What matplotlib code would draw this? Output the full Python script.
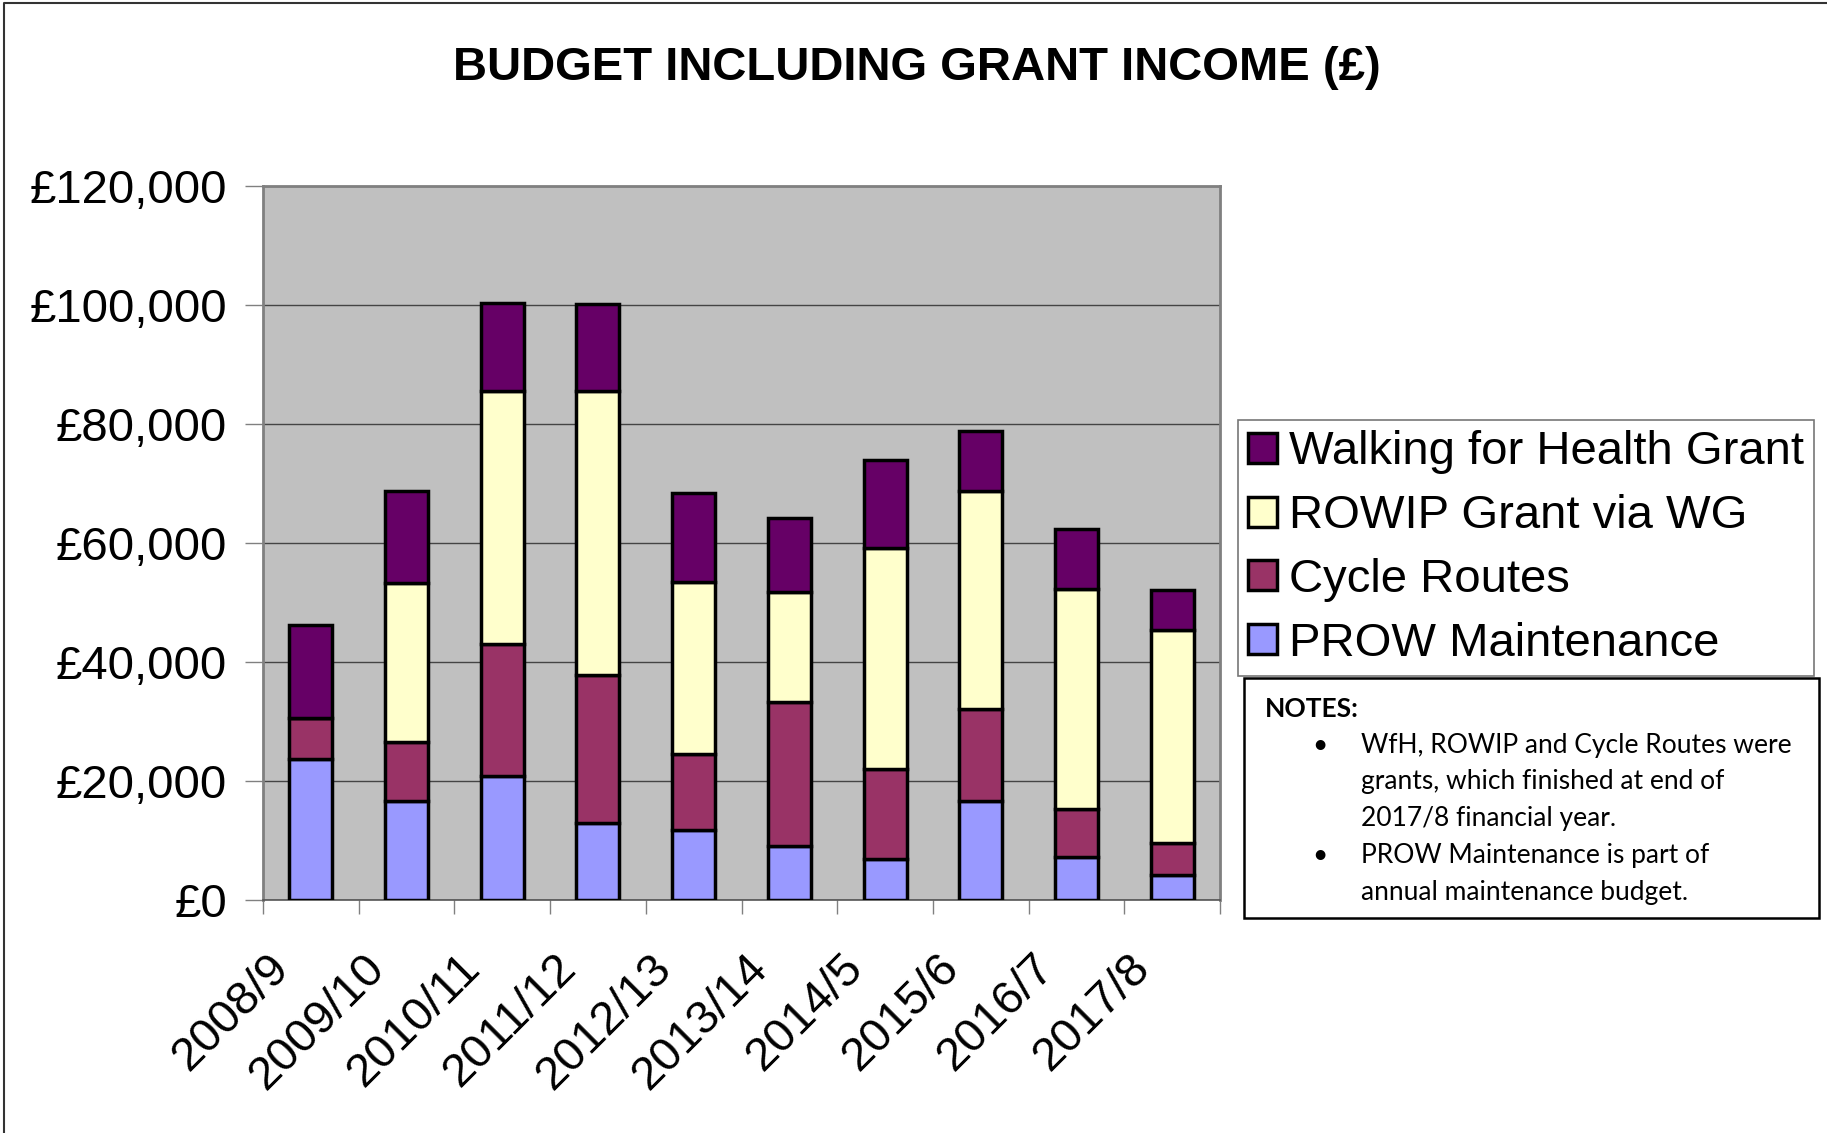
#!/usr/bin/env python3
"""Budget including grant income - stacked bar chart."""

import matplotlib.pyplot as plt
import matplotlib.ticker as ticker
import matplotlib.transforms as mtransforms
from matplotlib.patches import Rectangle
from matplotlib.lines import Line2D

years = ["2008/9", "2009/10", "2010/11", "2011/12", "2012/13",
         "2013/14", "2014/5", "2015/6", "2016/7", "2017/8"]

# values in £
prow_maintenance = [23700, 16700, 20900, 12900, 11700, 9100, 6900, 16600, 7200, 4200]
cycle_routes = [6900, 9900, 22200, 24900, 12800, 24200, 15100, 15500, 8100, 5400]
rowip_grant = [0, 26700, 42400, 47800, 29000, 18500, 37100, 36600, 37000, 35800]
wfh_grant = [15600, 15400, 14900, 14600, 14900, 12400, 14900, 10200, 10000, 6700]

series_names = ["PROW Maintenance", "Cycle Routes", "ROWIP Grant via WG", "Walking for Health Grant"]
series_colors = ["#9999FF", "#993366", "#FFFFCC", "#660066"]

notes_title = "NOTES:"
notes_items = [
    ["WfH, ROWIP and Cycle Routes were", "grants, which finished at end of", "2017/8 financial year."],
    ["PROW Maintenance is part of", "annual maintenance budget."],
]

plt.rcParams["font.family"] = ["Liberation Sans", "DejaVu Sans"]

W, H = 1827, 1133
fig = plt.figure(figsize=(W / 100, H / 100), dpi=100)
fig.patch.set_facecolor("white")

ax = fig.add_axes([263 / W, 1 - 900 / H, (1220 - 263) / W, (900 - 186) / H])
ax.set_facecolor("#C0C0C0")

x = list(range(len(years)))
bottom = [0] * len(years)
handles = []
for vals, name, col in zip([prow_maintenance, cycle_routes, rowip_grant, wfh_grant],
                           series_names, series_colors):
    bars = ax.bar(x, vals, bottom=bottom, width=0.45, color=col,
                  edgecolor="black", linewidth=2.5, label=name, zorder=3)
    handles.append(bars)
    bottom = [b + v for b, v in zip(bottom, vals)]

ax.set_ylim(0, 120000)
ax.set_xlim(-0.5, len(years) - 0.5)
ax.yaxis.set_major_locator(ticker.MultipleLocator(20000))
ax.yaxis.set_major_formatter(ticker.FuncFormatter(lambda v, _: f"£{v:,.0f}"))
ax.grid(axis="y", color="#444444", linewidth=1.0, zorder=1)
ax.set_axisbelow(True)

# category boundaries as major ticks, labels on minor ticks at centres
ax.xaxis.set_major_locator(ticker.FixedLocator([i - 0.5 for i in range(len(years) + 1)]))
ax.xaxis.set_major_formatter(ticker.NullFormatter())
ax.xaxis.set_minor_locator(ticker.FixedLocator(x))
ax.xaxis.set_minor_formatter(ticker.FixedFormatter(years))
ax.tick_params(axis="x", which="major", length=10, width=1, color="#808080", direction="out")
ax.tick_params(axis="x", which="minor", length=0, pad=33, labelsize=34)
shift = mtransforms.ScaledTranslation(-0.13, 0, fig.dpi_scale_trans)
for lbl in ax.get_xticklabels(minor=True):
    lbl.set_rotation(45)
    lbl.set_ha("right")
    lbl.set_transform(lbl.get_transform() + shift)
ax.tick_params(axis="y", length=13, width=1, color="#808080", pad=13, labelsize=34)

for side in ["top", "right", "left"]:
    ax.spines[side].set_color("#808080")
    ax.spines[side].set_linewidth(2)
ax.spines["bottom"].set_color("#555555")
ax.spines["bottom"].set_linewidth(1.2)

fig.text(917 / W, 1 - 68 / H, "BUDGET INCLUDING GRANT INCOME (£)",
         ha="center", va="center", fontsize=34, fontweight="bold")

leg = fig.legend(handles[::-1], series_names[::-1], loc="upper left",
                 bbox_to_anchor=(1238 / W, 1 - 420 / H), fontsize=34,
                 frameon=True, fancybox=False, edgecolor="#555555",
                 handlelength=0.6, handleheight=0.6, handletextpad=0.25,
                 labelspacing=0.42, borderpad=0.22, borderaxespad=0)
leg.get_frame().set_linewidth(1.2)

# notes box
fig.patches.append(Rectangle((1244 / W, 1 - 918 / H), (1819 - 1244) / W, (918 - 678) / H,
                             transform=fig.transFigure, facecolor="white",
                             edgecolor="black", linewidth=1.8))
fig.text(1265 / W, 1 - 709 / H, notes_title, fontsize=19, fontweight="bold",
         family=["Lato", "DejaVu Sans"], va="center", ha="left")
y = 745
for item in notes_items:
    fig.text(1320 / W, 1 - y / H, "•", fontsize=19, family=["Lato", "DejaVu Sans"],
             va="center", ha="center")
    for line in item:
        fig.text(1361 / W, 1 - y / H, line, fontsize=19, family=["Lato", "DejaVu Sans"],
                 va="center", ha="left")
        y += 36.8

# thin frame along the top and left edges of the picture
fig.lines.append(Line2D([0.002, 0.002, 1], [0, 0.997, 0.997], transform=fig.transFigure,
                        color="#333333", linewidth=1.5))

fig.savefig("out.png", dpi=100)
